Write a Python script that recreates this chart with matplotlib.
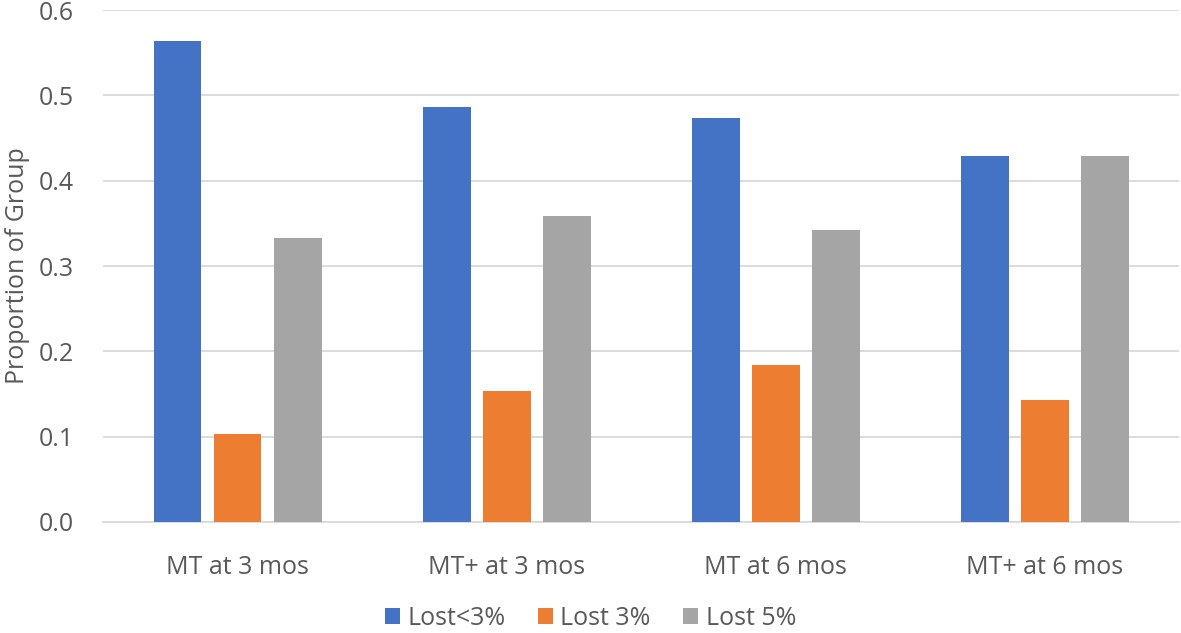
import matplotlib.pyplot as plt
import numpy as np

plt.rcParams['font.family'] = ['Open Sans', 'DejaVu Sans']

# data
groups = ['MT at 3 mos', 'MT+ at 3 mos', 'MT at 6 mos', 'MT+ at 6 mos']
series = ['Lost<3%', 'Lost 3%', 'Lost 5%']
lost_lt3 = [0.564, 0.487, 0.474, 0.429]
lost_3 = [0.103, 0.154, 0.184, 0.143]
lost_5 = [0.333, 0.359, 0.342, 0.429]
colors = ['#4472C4', '#ED7D31', '#A5A5A5']

fig = plt.figure(figsize=(11.81, 6.33), dpi=100)
ax = fig.add_axes([0.0872, 0.1754, 0.9115, 0.8086])

x = np.arange(len(groups))
bar_width = 0.178
step = 0.223
for i, (name, vals) in enumerate(zip(series, [lost_lt3, lost_3, lost_5])):
    ax.bar(x + (i - 1) * step, vals, bar_width, label=name, color=colors[i], zorder=3)

ax.set_xlim(-0.5, len(groups) - 0.5)
ax.set_ylim(0, 0.6)
ax.set_yticks(np.arange(0, 0.61, 0.1))
ax.set_yticklabels([f'{v:.1f}' for v in np.arange(0, 0.61, 0.1)])
ax.set_xticks(x)
ax.set_xticklabels(groups)
ax.grid(axis='y', color='#D9D9D9', linewidth=1.3, zorder=0)
for s in ['top', 'right', 'left']:
    ax.spines[s].set_visible(False)
ax.spines['bottom'].set_color('#D9D9D9')
ax.spines['bottom'].set_linewidth(1.3)
ax.tick_params(axis='both', length=0, labelsize=18, labelcolor='#595959')
ax.tick_params(axis='x', pad=24)
ax.tick_params(axis='y', pad=21)
ax.set_ylabel('Proportion of Group', fontsize=18, color='#595959', labelpad=6)

fig.legend(loc='lower center', bbox_to_anchor=(0.5, -0.032), ncol=3, frameon=False,
           fontsize=18, labelcolor='#595959', handlelength=0.6, handleheight=0.6,
           handletextpad=0.3, columnspacing=1.3)

plt.savefig('out.png', dpi=100)
